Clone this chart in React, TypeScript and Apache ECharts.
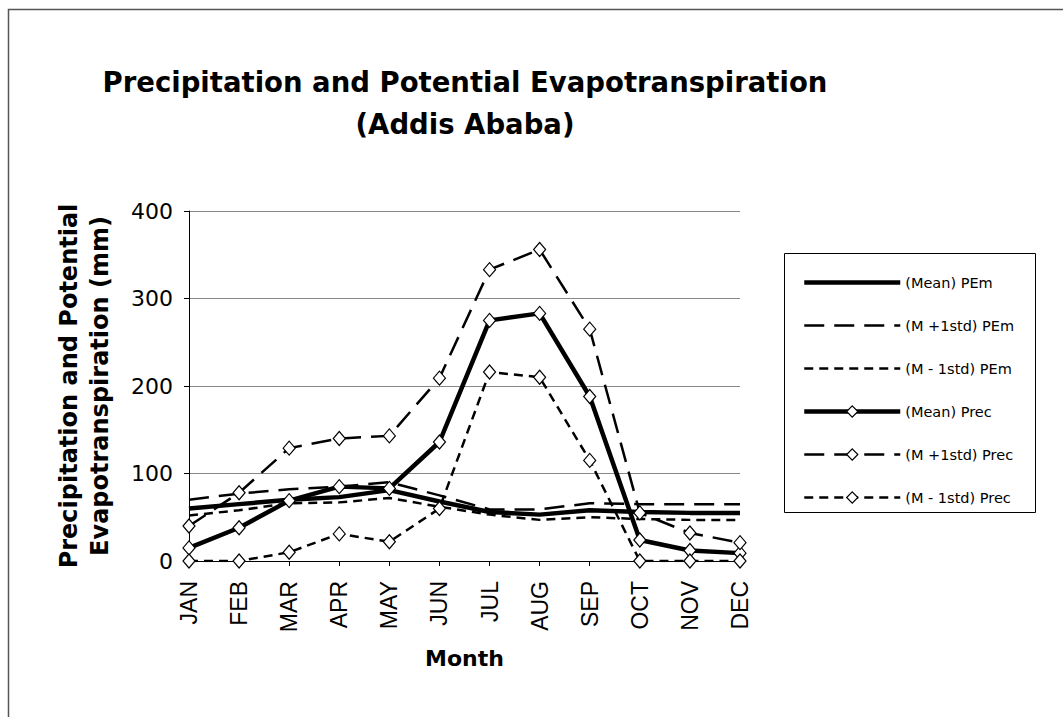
import React, { useEffect, useRef } from "react";
import * as echarts from "echarts";

const months = ["JAN", "FEB", "MAR", "APR", "MAY", "JUN", "JUL", "AUG", "SEP", "OCT", "NOV", "DEC"];
const pemMean = [60, 65, 70, 73, 81, 68, 56, 53, 58, 56, 55, 55];
const pemPlus = [70, 77, 82, 85, 90, 75, 59, 59, 66, 65, 65, 65];
const pemMinus = [52, 58, 66, 67, 72, 62, 53, 47, 50, 48, 47, 47];
const precMean = [15, 38, 69, 85, 83, 136, 275, 283, 188, 24, 12, 9];
const precPlus = [40, 78, 129, 140, 143, 209, 333, 356, 265, 55, 32, 21];
const precMinus = [0, 0, 10, 31, 22, 60, 216, 210, 115, 0, 0, 0];
const yTicks = [0, 100, 200, 300, 400];

const seriesNames = [
  "(Mean) PEm",
  "(M +1std) PEm",
  "(M - 1std) PEm",
  "(Mean) Prec",
  "(M +1std) Prec",
  "(M - 1std) Prec",
];

export default function App() {
  const ref = useRef<HTMLDivElement>(null);
  useEffect(() => {
    if (!ref.current) return;
    const chart = echarts.init(ref.current, undefined, { renderer: "svg" });
    const longDash = [20, 10];
    const shortDash = [9, 6];
    const styles: { type: any; width: number; marker: boolean }[] = [
      { type: "solid", width: 4.5, marker: false },
      { type: longDash, width: 2.5, marker: false },
      { type: shortDash, width: 2.5, marker: false },
      { type: "solid", width: 4.5, marker: true },
      { type: longDash, width: 2.5, marker: true },
      { type: shortDash, width: 2.5, marker: true },
    ];
    const datas = [pemMean, pemPlus, pemMinus, precMean, precPlus, precMinus];
    const series = seriesNames.map((name, i) => ({
      name,
      type: "line",
      data: datas[i],
      symbol: styles[i].marker ? "diamond" : "none",
      symbolSize: [12, 14],
      showSymbol: styles[i].marker,
      lineStyle: { color: "#000", width: styles[i].width, type: styles[i].type },
      itemStyle: { color: "#fff", borderColor: "#000", borderWidth: 1.2 },
      emphasis: { disabled: true },
    }));
    const legendData = seriesNames.map((name, i) => ({
      name,
      lineStyle: { color: "#000", width: styles[i].width, type: styles[i].type },
      itemStyle: styles[i].marker
        ? { color: "#fff", borderColor: "#000", borderWidth: 1.2 }
        : { color: "rgba(0,0,0,0)", borderColor: "rgba(0,0,0,0)", borderWidth: 0, opacity: 0 },
    }));
    chart.setOption({
      animation: false,
      backgroundColor: "#fff",
      title: [
        {
          text: "Precipitation and Potential Evapotranspiration",
          left: 460,
          top: 63,
          textAlign: "center",
          textStyle: { fontFamily: "DejaVu Sans", fontWeight: "bold", fontSize: 27.5, color: "#000" },
        },
        {
          text: "(Addis Ababa)",
          left: 460,
          top: 105,
          textAlign: "center",
          textStyle: { fontFamily: "DejaVu Sans", fontWeight: "bold", fontSize: 27.5, color: "#000" },
        },
      ],
      graphic: [
        {
          type: "rect",
          shape: { x: 8.5, y: 9.5, width: 1200, height: 900 },
          style: { fill: "none", stroke: "#555", lineWidth: 1.5 },
          silent: true,
        },
        {
          type: "rect",
          shape: { x: 784.5, y: 253.5, width: 251, height: 259 },
          style: { fill: "#fff", stroke: "#000", lineWidth: 1 },
          silent: true,
          z: -1,
        },
      ],
      legend: {
        orient: "vertical",
        left: 802,
        top: 275,
        padding: 0,
        itemWidth: 96,
        itemHeight: 14,
        itemGap: 28,
        data: legendData,
        textStyle: { fontFamily: "DejaVu Sans", fontSize: 14.5, color: "#000" },
        selectedMode: false,
      },
      grid: { left: 189, right: 323, top: 211, bottom: 156 },
      xAxis: {
        type: "category",
        data: months,
        boundaryGap: false,
        name: "Month",
        nameLocation: "middle",
        nameGap: 86,
        nameTextStyle: { fontFamily: "DejaVu Sans", fontWeight: "bold", fontSize: 22, color: "#000" },
        axisLine: { lineStyle: { color: "#000", width: 1 } },
        axisTick: { show: true, length: 5, lineStyle: { color: "#000" } },
        axisLabel: {
          rotate: 90,
          margin: 20,
          interval: 0,
          fontFamily: "Liberation Sans",
          fontSize: 23,
          color: "#000",
        },
        splitLine: { show: false },
      },
      yAxis: {
        type: "value",
        min: yTicks[0],
        max: yTicks[yTicks.length - 1],
        interval: 100,
        name: "Precipitation and Potential\nEvapotranspiration (mm)",
        nameLocation: "middle",
        nameRotate: 90,
        nameGap: 74,
        nameTextStyle: {
          fontFamily: "DejaVu Sans",
          fontWeight: "bold",
          fontSize: 24,
          color: "#000",
          lineHeight: 31,
        },
        axisLine: { show: true, lineStyle: { color: "#000", width: 1 } },
        axisTick: { show: true, length: 5, lineStyle: { color: "#000" } },
        axisLabel: { margin: 16, fontFamily: "DejaVu Sans", fontSize: 22, color: "#000" },
        splitLine: { show: true, lineStyle: { color: "#888", width: 1 } },
      },
      series,
    });
    return () => chart.dispose();
  }, []);
  return (
    <div
      ref={ref}
      style={{ position: "absolute", left: 0, top: 0, width: 1063, height: 717 }}
    />
  );
}
